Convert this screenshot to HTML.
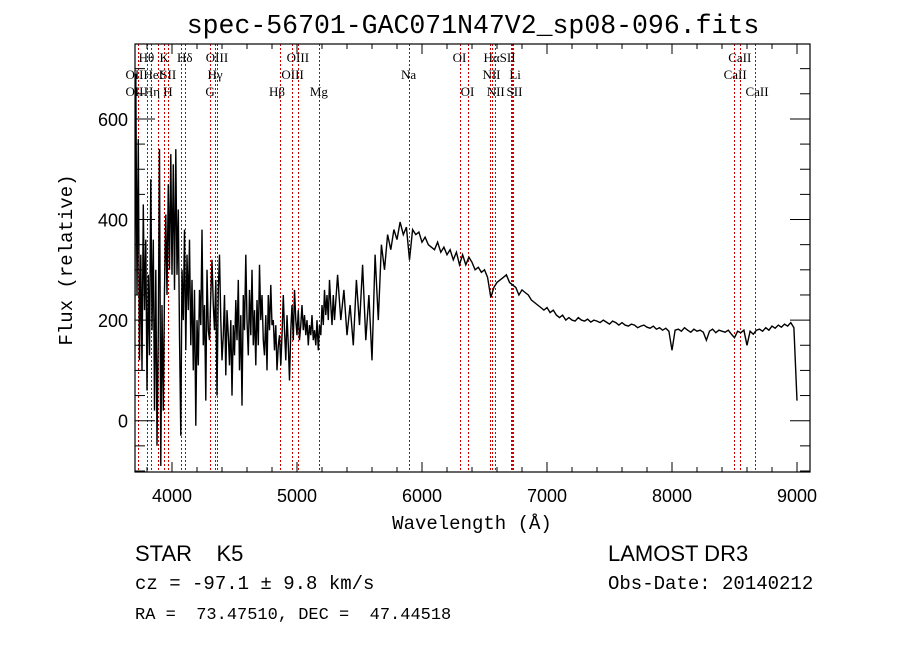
<!DOCTYPE html>
<html><head><meta charset="utf-8">
<style>
html,body{margin:0;padding:0;background:#fff;}
svg{display:block;}
.mono{font-family:"Liberation Mono",monospace;}
.sans{font-family:"Liberation Sans",sans-serif;}
.serif{font-family:"Liberation Serif",serif;}
</style></head>
<body>
<svg id="chart" width="900" height="649" viewBox="0 0 900 649" xmlns="http://www.w3.org/2000/svg">
  <rect width="900" height="649" fill="#fff"/>
  <text x="473" y="33" text-anchor="middle" class="mono" font-size="26.5" fill="#000">spec-56701-GAC071N47V2_sp08-096.fits</text>
  <defs><clipPath id="plotclip"><rect x="135" y="44" width="675" height="428"/></clipPath></defs>
  <g id="lines"></g>
  <g id="labels"></g>
  <g id="spec" clip-path="url(#plotclip)"></g>
  <g id="axes"></g>
  <text x="472" y="529" text-anchor="middle" class="mono" font-size="19" fill="#000">Wavelength (Å)</text>
  <text transform="translate(72,260) rotate(-90)" text-anchor="middle" class="mono" font-size="19" fill="#000">Flux (relative)</text>
  <text x="135" y="561" class="sans" font-size="22" fill="#000" xml:space="preserve">STAR    K5</text>
  <text x="608" y="561" class="sans" font-size="22" fill="#000">LAMOST DR3</text>
  <text x="135" y="589" class="mono" font-size="19" fill="#000" xml:space="preserve">cz = -97.1 ± 9.8 km/s</text>
  <text x="608" y="589" class="mono" font-size="19" fill="#000">Obs-Date: 20140212</text>
  <text x="135" y="619" class="mono" font-size="17" fill="#000" xml:space="preserve">RA =  73.47510, DEC =  47.44518</text>
</svg>
<script>
const xTicks = [4000,5000,6000,7000,8000,9000];
const yTicks = [0,200,400,600];
const blueFlux = [50,690,250,560,120,330,100,430,220,360,
60,290,130,480,180,360,20,300,-50,180,
540,-90,230,20,260,410,250,470,300,530,
290,510,260,540,290,420,170,-30,300,200,
380,140,330,220,360,150,280,100,260,-10,
200,110,260,190,380,150,230,40,300,180,
160,250,320,230,180,280,50,260,330,200,
120,170,250,90,220,170,110,200,50,190,
130,240,160,280,100,210,30,250,180,330,
200,130,260,170,300,150,220,110,240,150,
310,200,250,160,130,210,100,250,180,270,
190,200,140,190,100,150,170,110,170,250,
180,120,210,150,80,180,230,160,260,200,
170,220,160,190,230,180,210,170,200,150,
190,170,210,160,180,150,200,140,190,170,
230,190,260,210,250,200,280,230,190,250,200];
const redFlux = [290,200,260,170,230,150,280,190,310,160,250,120,330,200,350,300,370,340,380,360,395,370,385,320,380,370,375,355,365,350,345,340,355,335,345,330,340,320,335,310,330,310,325,315,300,305,295,300,285,245,265,275,280,285,290,275,270,265,250,260,255,250,240,235,230,225,220,225,215,220,210,205,210,200,205,200,198,205,200,198,202,196,200,198,195,200,196,192,198,195,190,195,190,188,192,190,185,188,190,186,184,188,182,185,180,184,178,140,180,182,178,185,180,176,182,178,180,176,160,178,182,175,180,178,176,180,172,165,178,175,180,150,178,172,180,182,178,185,180,188,184,190,186,192,188,195,185,40];
const lineWaves = [3727,3729,3798,3835,3889,3934,3968,4069,4102,4304,4340,4363,4861,4959,5007,5175,5893,6300,6364,6548,6563,6583,6708,6717,6731,8498,8542,8662];
const labelText = ["Hθ","K","Hδ","OIII","OIII","OI","HαSII","CaII",
"OII","HeI","SII","Hγ","OIII","Na","NII","Li","CaII",
"OII","Hη","H","G","Hβ","Mg","OI","NII","SII","CaII"];
const labelWave = [3795,3938,4102,4360,5007,6300,6620,8542,
3700,3850,3970,4345,4965,5893,6556,6745,8505,
3700,3840,3968,4305,4840,5175,6364,6590,6740,8680];
const labelRow = [0,0,0,0,0,0,0,0, 1,1,1,1,1,1,1,1,1, 2,2,2,2,2,2,2,2,2,2];

const NS="http://www.w3.org/2000/svg";
const X0=135,X1=810,Y0=44,Y1=472;
const xmin=3704,xmax=9104,ymin=-102,ymax=749;
function xs(w){return X0+(w-xmin)/(xmax-xmin)*(X1-X0);}
function ys(f){return Y1-(f-ymin)/(ymax-ymin)*(Y1-Y0);}
function mk(tag,attrs,parent){const e=document.createElementNS(NS,tag);for(const k in attrs)e.setAttribute(k,attrs[k]);parent.appendChild(e);return e;}

const lg=document.getElementById('lines');
lineWaves.forEach(w=>{
  const x=Math.round(xs(w))+0.5;
  const l=mk('line',{x1:x,x2:x,y1:Y0,y2:Y1,stroke:'#cc0000','stroke-width':1,'stroke-dasharray':'2,2'},lg);
  
  
});
const lb=document.getElementById('labels');
const rowY=[62,79,96];
labelText.forEach((t,i)=>{
  const e=mk('text',{x:xs(labelWave[i]),y:rowY[labelRow[i]],'text-anchor':'middle','font-size':13,'class':'serif',fill:'#000'},lb);
  e.textContent=t;
  
  
});

const pts=[];
blueFlux.forEach((f,i)=>pts.push([3700+i*10,f]));
const rs=5325, re=9000;
redFlux.forEach((f,i)=>pts.push([rs+i*(re-rs)/(redFlux.length-1),f]));
let d='';
pts.forEach((p,i)=>{d+=(i?'L':'M')+xs(p[0]).toFixed(1)+','+ys(p[1]).toFixed(1);});
const sp=mk('path',{d:d,fill:'none',stroke:'#000','stroke-width':1.4},document.getElementById('spec'));



const ax=document.getElementById('axes');
const box=mk('rect',{x:X0,y:Y0,width:X1-X0,height:Y1-Y0,fill:'none',stroke:'#000','stroke-width':1.2},ax);


for(let w=3800;w<=9100;w+=200){
  const big=w%1000===0, L=big?10:5;
  mk('line',{x1:xs(w),x2:xs(w),y1:Y1,y2:Y1-L,stroke:'#000'},ax);
  mk('line',{x1:xs(w),x2:xs(w),y1:Y0,y2:Y0+L,stroke:'#000'},ax);
}
xTicks.forEach(w=>{
  const t=mk('text',{x:xs(w),y:502,'text-anchor':'middle','font-size':18,'class':'sans',fill:'#000'},ax);
  t.textContent=w;
  
  
});
for(let f=-100;f<=700;f+=50){
  const big=f%200===0, L=big?20:10;
  mk('line',{x1:X0,x2:X0+L,y1:ys(f),y2:ys(f),stroke:'#000'},ax);
  mk('line',{x1:X1,x2:X1-L,y1:ys(f),y2:ys(f),stroke:'#000'},ax);
}
yTicks.forEach(f=>{
  const t=mk('text',{x:128,y:ys(f)+7,'text-anchor':'end','font-size':18,'class':'sans',fill:'#000'},ax);
  t.textContent=f;
  
  
});
</script>
</body></html>
